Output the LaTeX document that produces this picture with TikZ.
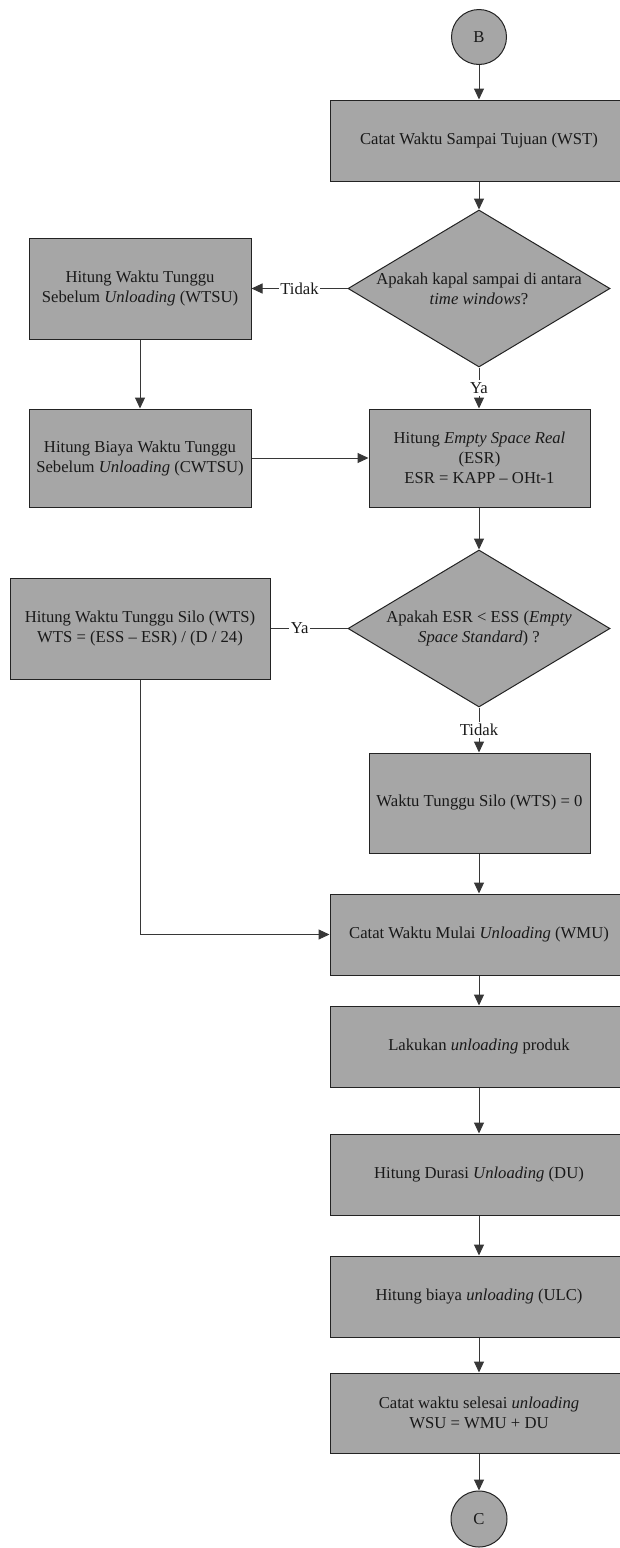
\documentclass[tikz,border=0pt]{standalone}
\usepackage{fontspec}
\setmainfont{Liberation Serif}
\usetikzlibrary{shapes.geometric,arrows.meta}
\definecolor{boxfill}{RGB}{166,166,166}
\definecolor{edge}{RGB}{35,35,35}
\definecolor{wire}{RGB}{55,55,55}
\definecolor{ink}{RGB}{25,25,25}

\begin{document}
\begin{tikzpicture}[x=0.6pt,y=-0.6pt,
  font=\fontsize{10}{12}\selectfont,
  every node/.style={inner sep=0pt, align=center, text=ink},
  procbox/.style={draw=edge, fill=boxfill, line width=0.6pt, rectangle},
  widebox/.style={procbox, minimum width=178.8pt, minimum height=48.6pt},
  midbox/.style={procbox, minimum width=132.6pt},
  leftbox/.style={procbox, minimum width=133.2pt},
  decision/.style={draw=edge, fill=boxfill, line width=0.6pt, diamond,
                   minimum width=157.2pt, minimum height=94.2pt},
  joint/.style={draw=edge, fill=boxfill, line width=0.6pt, circle, minimum size=33pt},
  flow/.style={draw=wire, line width=0.6pt, -{Triangle[length=6.6pt,width=6pt]}},
  plain/.style={draw=wire, line width=0.6pt},
  tag/.style={fill=white, inner xsep=1pt, inner ysep=1.5pt}
]
\useasboundingbox (0,0) rectangle (620,1548);
\clip (0,0) rectangle (620,1548);

% main column
\node[joint] (b) at (479,37) {B};
\node[widebox] (wst) at (479,140.5) {Catat Waktu Sampai Tujuan (WST)};

\node[decision] (d1) at (479,288.5) {};
\node at (d1) {Apakah kapal sampai di antara\\\textit{time windows}?};

\node[leftbox, minimum height=60.6pt] (wtsu) at (140,288.5)
  {Hitung Waktu Tunggu\\Sebelum \textit{Unloading} (WTSU)};
\node[leftbox, minimum height=58.8pt] (cwtsu) at (140,458)
  {Hitung Biaya Waktu Tunggu\\Sebelum \textit{Unloading} (CWTSU)};

\node[midbox, minimum height=58.8pt] (esr) at (479.5,458)
  {Hitung \textit{Empty Space Real}\\(ESR)\\ESR = KAPP – OHt-1};

\node[decision] (d2) at (479,628.5) {};
\node at (d2) {Apakah ESR < ESS (\textit{Empty}\\\textit{Space Standard}) ?};

\node[procbox, minimum width=156pt, minimum height=60.6pt] (wts) at (140,628.5)
  {Hitung Waktu Tunggu Silo (WTS)\\WTS = (ESS – ESR) / (D / 24)};

\node[midbox, minimum height=60pt] (wtsnol) at (479.5,803)
  {Waktu Tunggu Silo (WTS) = 0};

\node[widebox] (wmu) at (479,934.5) {Catat Waktu Mulai \textit{Unloading} (WMU)};
\node[widebox] (lak) at (479,1046.5) {Lakukan \textit{unloading} produk};
\node[widebox] (du) at (479,1174.5) {Hitung Durasi \textit{Unloading} (DU)};
\node[widebox] (ulc) at (479,1296.5) {Hitung biaya \textit{unloading} (ULC)};
\node[widebox, minimum height=48pt] (wsu) at (479,1413)
  {Catat waktu selesai \textit{unloading}\\WSU = WMU + DU};
\node[joint, minimum size=33.6pt] (c) at (479,1519) {C};

% connectors
\draw[flow] (b.south) -- (b.south |- wst.north);
\draw[flow] (b.south |- wst.south) -- (d1.north);
\draw[flow] (d1.west) -- node[tag]{Tidak} (wtsu.east);
\draw[flow] (d1.south) -- node[tag]{Ya} (d1.south |- esr.north);
\draw[flow] (wtsu.south) -- (cwtsu.north);
\draw[flow] (cwtsu.east) -- (esr.west);
\draw[flow] (d1.south |- esr.south) -- (d2.north);
\draw[plain] (d2.west) -- node[tag, pos=0.62]{Ya} (wts.east);
\draw[flow] (d2.south) -- node[tag]{Tidak} (d2.south |- wtsnol.north);
\draw[flow] (d2.south |- wtsnol.south) -- (d2.south |- wmu.north);
\draw[flow] (wts.south) |- (wmu.west);
\draw[flow] (d2.south |- wmu.south) -- (d2.south |- lak.north);
\draw[flow] (d2.south |- lak.south) -- (d2.south |- du.north);
\draw[flow] (d2.south |- du.south) -- (d2.south |- ulc.north);
\draw[flow] (d2.south |- ulc.south) -- (d2.south |- wsu.north);
\draw[flow] (d2.south |- wsu.south) -- (c.north);
\end{tikzpicture}
\end{document}
